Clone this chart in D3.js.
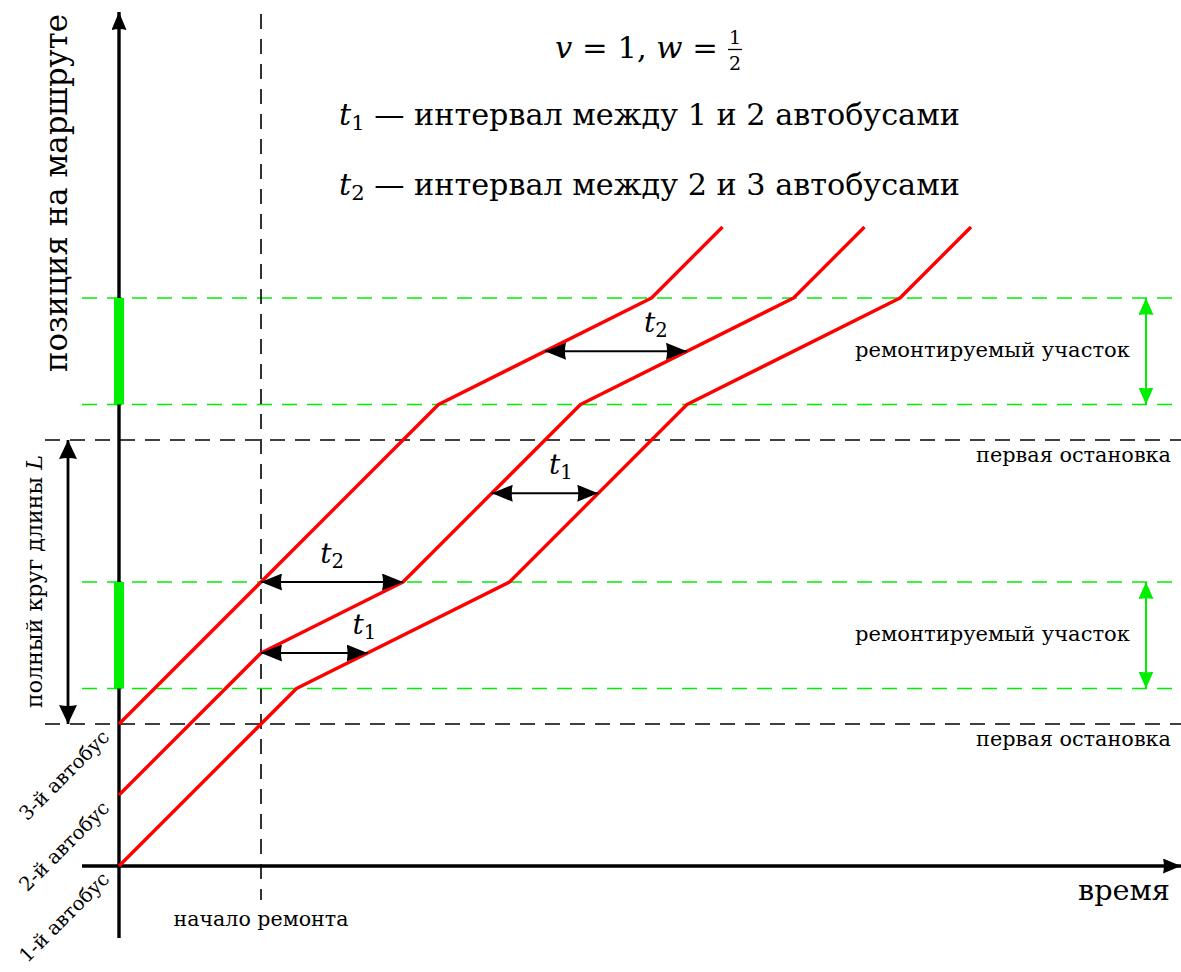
<!DOCTYPE html>
<html>
<head>
<meta charset="utf-8">
<script src="https://cdn.jsdelivr.net/npm/d3@7"></script>
<style>
  html, body { margin: 0; padding: 0; background: #fff; }
  svg { display: block; }
  text { font-family: "DejaVu Serif", "Liberation Serif", serif; fill: #000; }
</style>
</head>
<body>
<script>
// Time (horizontal) vs route position (vertical) for three buses, unit speed v = 1,
// speed w = 1/2 on the sections under repair.
const bus1 = [[0, 0], [2.5, 2.5], [5.5, 4], [8, 6.5], [11, 8], [12, 9]];
const bus2 = [[0, 1], [2, 3], [4, 4], [6.5, 6.5], [9.5, 8], [10.5, 9]];
const bus3 = [[0, 2], [4.5, 6.5], [7.5, 8], [8.5, 9]];
const buses = [bus1, bus2, bus3];
const busLabels = ["1-й автобус", "2-й автобус", "3-й автобус"];

const repairZones = [[2.5, 4], [6.5, 8]];
const firstStops = [2, 6];
const repairStart = 2;

// Headway measurements: position, time on the leading bus, time on the following bus.
const intervals = [
  { pos: 3, from: 2, to: 3.5, sub: "1" },
  { pos: 4, from: 2, to: 4, sub: "2" },
  { pos: 5.25, from: 5.25, to: 6.75, sub: "1" },
  { pos: 7.25, from: 6, to: 8, sub: "2" }
];
// horizontal placement of each headway label, as a fraction along its arrow
const intervalLabelAt = [0.97, 0.5, 0.65, 0.78];

const W = 1181, H = 972;
const unit = 71;
const x = d3.scaleLinear().domain([0, 1]).range([119, 119 + unit]);
const y = d3.scaleLinear().domain([0, 1]).range([866, 866 - unit]);

const svg = d3.select("body").append("svg").attr("width", W).attr("height", H);
const defs = svg.append("defs");

// scale a text element's font size so that it spans the given width
function fit(sel, width) {
  const w = sel.node().getComputedTextLength();
  const fs = parseFloat(sel.attr("font-size"));
  sel.attr("font-size", (fs * width / w).toFixed(2));
  return sel;
}

function marker(id, len, wid, color) {
  defs.append("marker")
    .attr("id", id)
    .attr("viewBox", `0 0 ${len} ${wid}`)
    .attr("refX", len).attr("refY", wid / 2)
    .attr("markerWidth", len).attr("markerHeight", wid)
    .attr("markerUnits", "userSpaceOnUse")
    .attr("orient", "auto-start-reverse")
    .append("path")
    .attr("d", `M0,0 L${len},${wid / 2} L0,${wid} Q${len * 0.1},${wid / 2} 0,0 Z`)
    .attr("fill", color);
}
marker("axisHead", 18, 15, "#000");
marker("bigHead", 19, 18, "#000");
marker("midHead", 21, 17, "#000");
marker("greenHead", 17, 15, "#00ee00");

const GREEN = "#00ee00";
const RED = "#ff0000";
const xLeftGreen = 82, xLeftBlack = 45, xRight = W;

// dashed guide lines: sections under repair
repairZones.forEach(z => {
  z.forEach(p => {
    svg.append("line")
      .attr("x1", xLeftGreen).attr("x2", xRight)
      .attr("y1", y(p)).attr("y2", y(p))
      .attr("stroke", GREEN).attr("stroke-width", 1.6)
      .attr("stroke-dasharray", "15,10");
  });
});
// dashed guide lines: first stop of each lap
firstStops.forEach(p => {
  svg.append("line")
    .attr("x1", xLeftBlack).attr("x2", xRight)
    .attr("y1", y(p)).attr("y2", y(p))
    .attr("stroke", "#000").attr("stroke-width", 1.6)
    .attr("stroke-dasharray", "15,10");
});
// repair start
svg.append("line")
  .attr("x1", x(repairStart)).attr("x2", x(repairStart))
  .attr("y1", 14).attr("y2", 900)
  .attr("stroke", "#000").attr("stroke-width", 1.6)
  .attr("stroke-dasharray", "15,10");

// axes
svg.append("line")
  .attr("x1", 82).attr("x2", W)
  .attr("y1", y(0)).attr("y2", y(0))
  .attr("stroke", "#000").attr("stroke-width", 3.4)
  .attr("marker-end", "url(#axisHead)");
svg.append("line")
  .attr("x1", x(0)).attr("x2", x(0))
  .attr("y1", 938).attr("y2", 12)
  .attr("stroke", "#000").attr("stroke-width", 3.4)
  .attr("marker-end", "url(#axisHead)");

// repair sections marked on the position axis
repairZones.forEach(z => {
  svg.append("line")
    .attr("x1", x(0)).attr("x2", x(0))
    .attr("y1", y(z[0])).attr("y2", y(z[1]))
    .attr("stroke", GREEN).attr("stroke-width", 10);
});

// bus trajectories
const line = d3.line().x(d => x(d[0])).y(d => y(d[1]));
buses.forEach(b => {
  svg.append("path")
    .attr("d", line(b))
    .attr("fill", "none")
    .attr("stroke", RED).attr("stroke-width", 3.4)
    .attr("stroke-linejoin", "round");
});

// headway arrows
intervals.forEach((iv, i) => {
  svg.append("line")
    .attr("x1", x(iv.from)).attr("x2", x(iv.to))
    .attr("y1", y(iv.pos)).attr("y2", y(iv.pos))
    .attr("stroke", "#000").attr("stroke-width", 2)
    .attr("marker-start", "url(#midHead)")
    .attr("marker-end", "url(#midHead)");
  const f = intervalLabelAt[i];
  const t = svg.append("text")
    .attr("x", x(iv.from) + f * (x(iv.to) - x(iv.from)))
    .attr("y", y(iv.pos) - 19)
    .attr("text-anchor", "middle")
    .attr("font-size", 28);
  t.append("tspan").attr("font-style", "italic").text("t");
  t.append("tspan").attr("font-size", "0.7em").attr("dy", "0.25em").text(iv.sub);
});

// full lap arrow
svg.append("line")
  .attr("x1", 68).attr("x2", 68)
  .attr("y1", y(firstStops[0])).attr("y2", y(firstStops[1]))
  .attr("stroke", "#000").attr("stroke-width", 2.8)
  .attr("marker-start", "url(#bigHead)")
  .attr("marker-end", "url(#bigHead)");
const lapLabel = svg.append("text")
  .attr("transform", `translate(42,${(455 + 708) / 2}) rotate(-90)`)
  .attr("text-anchor", "middle")
  .attr("font-size", 20);
lapLabel.append("tspan").text("полный круг длины ");
lapLabel.append("tspan").attr("font-style", "italic").text("L");
fit(lapLabel, 253);

// repair section arrows on the right
repairZones.forEach(z => {
  svg.append("line")
    .attr("x1", 1146).attr("x2", 1146)
    .attr("y1", y(z[0])).attr("y2", y(z[1]))
    .attr("stroke", GREEN).attr("stroke-width", 2)
    .attr("marker-start", "url(#greenHead)")
    .attr("marker-end", "url(#greenHead)");
  fit(svg.append("text")
    .attr("x", 855).attr("y", (y(z[0]) + y(z[1])) / 2 + 6)
    .attr("font-size", 20)
    .text("ремонтируемый участок"), 275);
});

firstStops.forEach(p => {
  fit(svg.append("text")
    .attr("x", 1171).attr("y", y(p) + 22)
    .attr("text-anchor", "end")
    .attr("font-size", 20)
    .text("первая остановка"), 195);
});

// bus names at their starting positions
buses.forEach((b, i) => {
  fit(svg.append("text")
    .attr("transform", `translate(64,${y(b[0][1]) + 51}) rotate(-45)`)
    .attr("text-anchor", "middle")
    .attr("dy", "0.35em")
    .attr("font-size", 20)
    .text(busLabels[i]), 118);
});

// axis titles
fit(svg.append("text")
  .attr("x", 1170).attr("y", 900)
  .attr("text-anchor", "end")
  .attr("font-size", 26)
  .text("время"), 92);
fit(svg.append("text")
  .attr("transform", `translate(67,193) rotate(-90)`)
  .attr("text-anchor", "middle")
  .attr("font-size", 28)
  .text("позиция на маршруте"), 358);
fit(svg.append("text")
  .attr("x", x(repairStart)).attr("y", 926)
  .attr("text-anchor", "middle")
  .attr("font-size", 20)
  .text("начало ремонта"), 175);

// heading: speeds
const head = svg.append("text")
  .attr("x", 555).attr("y", 58)
  .attr("font-size", 28);
head.append("tspan").attr("font-style", "italic").text("v");
head.append("tspan").text(" = 1, ");
head.append("tspan").attr("font-style", "italic").text("w");
head.append("tspan").text(" =");
fit(head, 163);
const fx = 735;
svg.append("text").attr("x", fx).attr("y", 44).attr("text-anchor", "middle").attr("font-size", 19).text("1");
svg.append("line").attr("x1", fx - 7).attr("x2", fx + 7).attr("y1", 49.5).attr("y2", 49.5).attr("stroke", "#000").attr("stroke-width", 1.3);
svg.append("text").attr("x", fx).attr("y", 70).attr("text-anchor", "middle").attr("font-size", 19).text("2");

// heading: legend for the intervals
const legend = [
  { sub: "1", text: " — интервал между 1 и 2 автобусами", y: 125 },
  { sub: "2", text: " — интервал между 2 и 3 автобусами", y: 195 }
];
legend.forEach(l => {
  const t = svg.append("text").attr("x", 339).attr("y", l.y).attr("font-size", 28);
  t.append("tspan").attr("font-style", "italic").text("t");
  t.append("tspan").attr("font-size", "0.7em").attr("dy", "0.25em").text(l.sub);
  t.append("tspan").attr("dy", "-0.175em").text(l.text);
  fit(t, 621);
});
</script>
</body>
</html>
